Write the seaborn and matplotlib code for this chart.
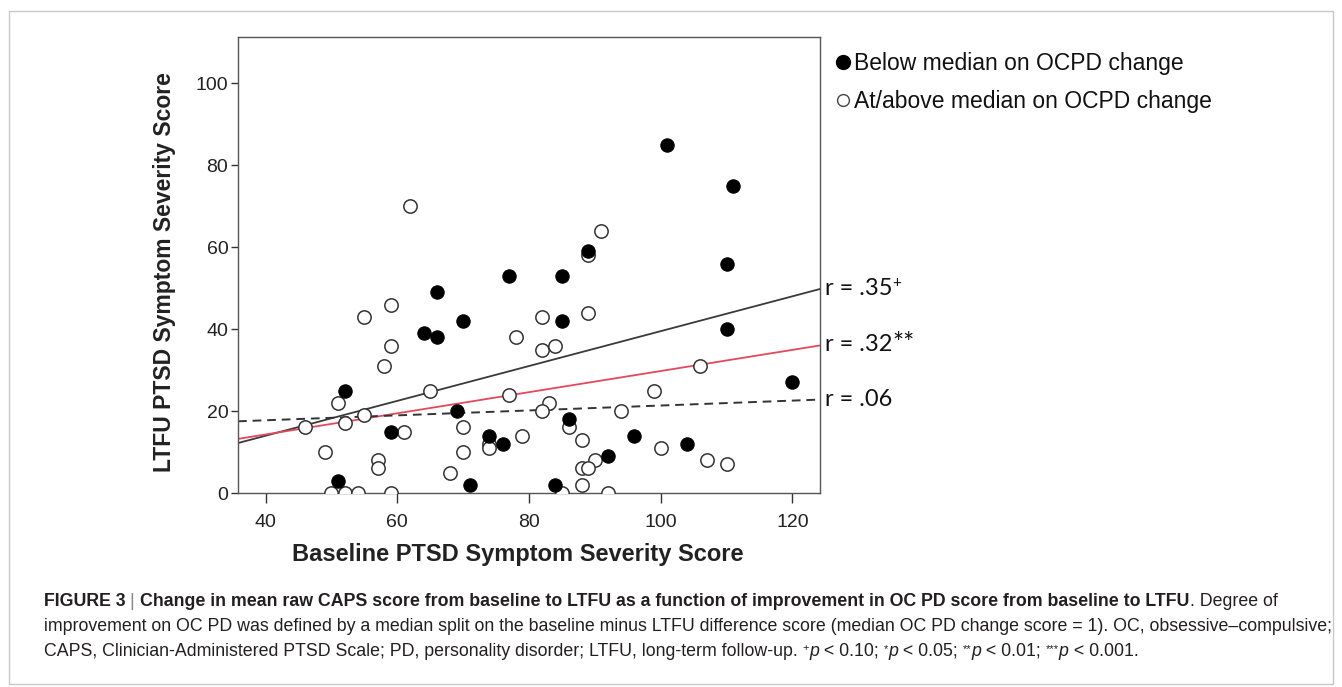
import numpy as np
import pandas as pd
import matplotlib
matplotlib.use("Agg")
import matplotlib.pyplot as plt
import seaborn as sns
from matplotlib.patches import Rectangle
from matplotlib.lines import Line2D

# ---------------- data ----------------
below_x = [101, 111, 110, 110, 120, 89, 77, 85, 66, 70, 85, 64, 66, 52, 69,
           86, 59, 74, 76, 96, 104, 92, 51, 71, 84]
below_y = [85, 75, 56, 40, 27, 59, 53, 53, 49, 42, 42, 39, 38, 25, 20,
           18, 15, 14, 12, 14, 12, 9, 3, 2, 2]
above_x = [62, 91, 89, 89, 59, 55, 82, 78, 59, 82, 84, 58, 106, 65, 99, 77,
           51, 83, 55, 82, 94, 52, 46, 61, 70, 86, 79, 74, 74, 88, 49, 70,
           100, 57, 57, 68, 90, 88, 89, 107, 110, 88, 50, 52, 54, 59, 85, 92]
above_y = [70, 64, 58, 44, 46, 43, 43, 38, 36, 35, 36, 31, 31, 25, 25, 24,
           22, 22, 19, 20, 20, 17, 16, 15, 16, 16, 14, 12, 11, 13, 10, 10,
           11, 8, 6, 5, 8, 6, 6, 8, 7, 2, 0, 0, 0, 0, 0, 0]

group_labels = ["Below median on OCPD change", "At/above median on OCPD change"]

# fitted lines: below-median group, total sample, at/above-median group
fit_intercepts = [-3.03, 3.97, 15.35]
fit_slopes = [0.4253, 0.258, 0.060]
fit_r_text = ["r = .35", "r = .32", "r = .06"]
fit_r_sup = ["+", "**", ""]

x_ticks = [40, 60, 80, 100, 120]
y_ticks = [0, 20, 40, 60, 80, 100]
x_label = "Baseline PTSD Symptom Severity Score"
y_label = "LTFU PTSD Symptom Severity Score"

# ---------------- figure ----------------
W, H = 1342, 687
sns.set_theme(style="white")
plt.rcParams['font.family'] = ['Liberation Sans', 'DejaVu Sans']

fig = plt.figure(figsize=(W / 100, H / 100), dpi=100)
fig.patch.set_facecolor("white")

def fx(px):
    return px / W

def fy(py):
    return 1 - py / H

ax_l, ax_r, ax_t, ax_b = 238, 820, 37, 493
ax = fig.add_axes([fx(ax_l), fy(ax_b), fx(ax_r - ax_l), (ax_b - ax_t) / H])

df_above = pd.DataFrame({"x": above_x, "y": above_y})
df_below = pd.DataFrame({"x": below_x, "y": below_y})

sns.scatterplot(data=df_above, x="x", y="y", ax=ax, s=92, facecolor="white",
                edgecolor="#333333", linewidth=1.1, zorder=3)
sns.scatterplot(data=df_below, x="x", y="y", ax=ax, s=92, color="black",
                edgecolor="black", linewidth=0.8, zorder=4)

xlim = (35.8, 124.2)
ylim = (0, 111.3)
ax.set_xlim(*xlim)
ax.set_ylim(*ylim)

xs = np.array(xlim)
line_styles = [dict(color="#3a3a3a", lw=1.3, ls="-"),
               dict(color="#e4485c", lw=1.3, ls="-"),
               dict(color="#333333", lw=1.4, ls=(0, (4.5, 3)))]
for b0, b1, st in zip(fit_intercepts, fit_slopes, line_styles):
    sns.lineplot(x=xs, y=b0 + b1 * xs, ax=ax, color=st["color"], lw=st["lw"],
                 linestyle=st["ls"], zorder=2)

ax.set_xticks(x_ticks)
ax.set_yticks(y_ticks)
ax.tick_params(axis="both", which="both", direction="out", width=1,
               color="#333333", labelsize=14, labelcolor="#222222",
               bottom=True, left=True, top=False, right=False)
ax.tick_params(axis="x", length=7, pad=8)
ax.tick_params(axis="y", length=5, pad=2)
for sp in ax.spines.values():
    sp.set_color("#555555")
    sp.set_linewidth(1.0)
ax.set_xlabel("")
ax.set_ylabel("")
ax.grid(False)

fig.text(fx(518), fy(554), x_label, ha="center", va="center",
         fontsize=17, fontweight="bold", color="#222222")
fig.text(fx(164), fy(272), y_label, ha="center", va="center", rotation=90,
         fontsize=16.5, fontweight="bold", color="#222222")

# legend (outside the axes, right)
handles = [Line2D([], [], ls="", marker="o", markersize=10, color="black",
                  markeredgecolor="black"),
           Line2D([], [], ls="", marker="o", markersize=8.5, markerfacecolor="white",
                  markeredgecolor="#444444", markeredgewidth=1.0)]
leg_x = (836 - ax_l) / (ax_r - ax_l)
leg_y = 1 - (52 - ax_t) / (ax_b - ax_t)
ax.legend(handles, group_labels, loc="upper left",
          bbox_to_anchor=(leg_x, leg_y),
          frameon=False, fontsize=16.5, handlelength=0.6, handletextpad=0.2,
          labelspacing=0.65, borderpad=0, borderaxespad=0,
          labelcolor="#111111")

fig.canvas.draw()
renderer = fig.canvas.get_renderer()

def pieces(x_px, y_px, items, default):
    x = x_px
    for txt, kw in items:
        k = dict(default)
        k.update(kw)
        dy = k.pop("dy", 0)
        t = fig.text(fx(x), fy(y_px - dy), txt, ha="left", va="baseline", **k)
        bb = t.get_window_extent(renderer)
        x += bb.width
    return x

# r labels at the right end of each fitted line
for b0, b1, txt, sup in zip(fit_intercepts, fit_slopes, fit_r_text, fit_r_sup):
    yv = b0 + b1 * xlim[1]
    disp = ax.transData.transform((xlim[1], yv))
    y_px = H - disp[1] + 6
    items = [(txt, {})]
    if sup == "+":
        items.append(("+", dict(fontsize=11, dy=8)))
    elif sup:
        items.append((sup, dict(fontsize=19, dy=-1)))
    pieces(825, y_px, items, dict(fontsize=17, family=["Lato", "DejaVu Sans"],
                                  color="#111111"))

# caption
cap_col = "#231f20"
cap_default = dict(fontsize=12.8, family=["Liberation Sans", "DejaVu Sans"], color=cap_col)
line1 = [("FIGURE 3 ", dict(fontweight="bold")),
         ("| ", dict(color="#888888")),
         ("Change in mean raw CAPS score from baseline to LTFU as a function of improvement in OC PD score from baseline to LTFU",
          dict(fontweight="bold")),
         (". Degree of", {})]
line2 = [("improvement on OC PD was defined by a median split on the baseline minus LTFU difference score (median OC PD change score = 1). OC, obsessive\u2013compulsive;", {})]
line3 = [("CAPS, Clinician-Administered PTSD Scale; PD, personality disorder; LTFU, long-term follow-up. ", {}),
         ("+", dict(fontsize=8, dy=5)), ("p", dict(style="italic")), (" < 0.10; ", {}),
         ("*", dict(fontsize=8, dy=4)), ("p", dict(style="italic")), (" < 0.05; ", {}),
         ("**", dict(fontsize=8, dy=4)), ("p", dict(style="italic")), (" < 0.01; ", {}),
         ("***", dict(fontsize=8, dy=4)), ("p", dict(style="italic")), (" < 0.001.", {})]
pieces(44, 606, line1, cap_default)
pieces(44, 631, line2, cap_default)
pieces(44, 656, line3, cap_default)

# outer frame
fig.patches.append(Rectangle((fx(9), fy(684)), fx(1333 - 9), (684 - 11) / H,
                             transform=fig.transFigure, fill=False,
                             edgecolor="#c8c8c8", lw=1.0))

fig.savefig("out.png", dpi=100, facecolor="white")
